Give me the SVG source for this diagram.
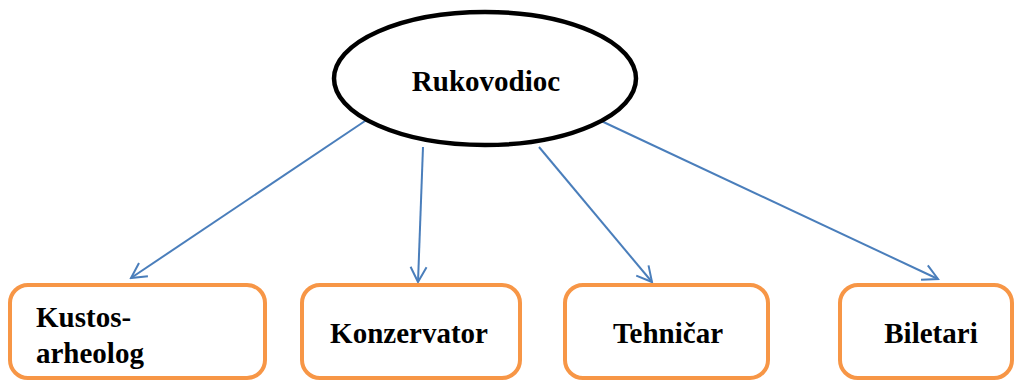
<svg xmlns="http://www.w3.org/2000/svg" width="1016" height="381" viewBox="0 0 1016 381">
<style>
.lbl{font-family:"Liberation Serif","Times New Roman",serif;font-weight:bold;font-size:29px;fill:#000}
.box{fill:#fff;stroke:#F79646;stroke-width:4}
.conn{stroke:#4A7EBB;stroke-width:2;fill:none}
</style>
<defs>
<marker id="arr" markerUnits="userSpaceOnUse" viewBox="0 0 18 20" markerWidth="18" markerHeight="20" refX="16" refY="10" orient="auto">
<path d="M1,2 L16,10 L1,18" fill="none" stroke="#4A7EBB" stroke-width="2"/>
</marker>
<clipPath id="clip1"><rect x="10" y="285" width="255" height="84"/></clipPath>
</defs>
<rect width="1016" height="381" fill="#fff"/>
<g id="connectors">
<line class="conn" x1="368" y1="119" x2="131" y2="278" marker-end="url(#arr)"/>
<line class="conn" x1="423" y1="147" x2="418" y2="282" marker-end="url(#arr)"/>
<line class="conn" x1="539" y1="147" x2="652" y2="282" marker-end="url(#arr)"/>
<line class="conn" x1="597" y1="119" x2="938" y2="279" marker-end="url(#arr)"/>
</g>
<g id="node-rukovodioc">
<ellipse cx="485" cy="78.5" rx="151" ry="66.5" fill="#fff" stroke="#000" stroke-width="4.5"/>
<text class="lbl" x="486" y="91" text-anchor="middle">Rukovodioc</text>
</g>
<g id="node-kustos">
<rect class="box" x="10" y="285" width="255" height="93" rx="18"/>
<text class="lbl" x="36" clip-path="url(#clip1)"><tspan x="36" y="327">Kustos-</tspan><tspan x="36" y="363">arheolog</tspan></text>
</g>
<g id="node-konzervator">
<rect class="box" x="302" y="285" width="218" height="93" rx="18"/>
<text class="lbl" x="409" y="343" text-anchor="middle">Konzervator</text>
</g>
<g id="node-tehnicar">
<rect class="box" x="565" y="285" width="203" height="93" rx="18"/>
<text class="lbl" x="668" y="343" text-anchor="middle">Tehničar</text>
</g>
<g id="node-biletari">
<rect class="box" x="840" y="285" width="172" height="93" rx="18"/>
<text class="lbl" x="931" y="343" text-anchor="middle">Biletari</text>
</g>
</svg>
